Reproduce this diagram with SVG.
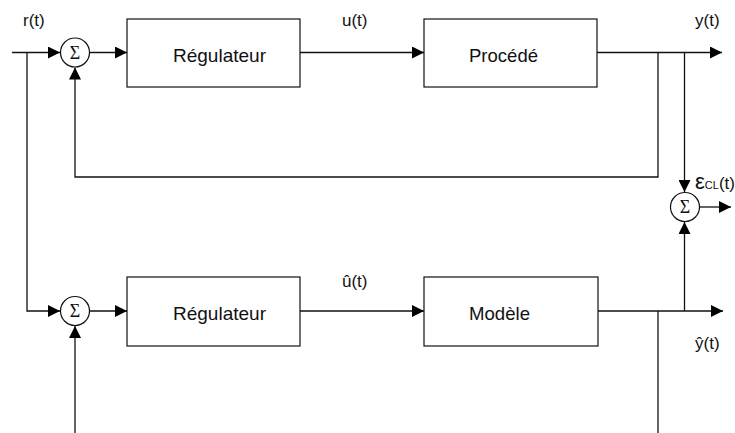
<svg xmlns="http://www.w3.org/2000/svg" width="735" height="433" viewBox="0 0 735 433">
<defs>
<style>
.ln{fill:none;stroke:#111;stroke-width:1.3}
.box{fill:#fff;stroke:#111;stroke-width:1.2}
.sum{fill:#fff;stroke:#111;stroke-width:1.2}
.lbl{font-family:"Liberation Sans",Arial,sans-serif;font-size:19px;fill:#111}
.sig{font-family:"Liberation Sans",Arial,sans-serif;font-size:17px;fill:#111}
.sg{font-family:"Liberation Serif","Times New Roman",serif;font-size:18px;fill:#111;text-anchor:middle}
</style>
<marker id="ah" viewBox="0 0 12 12" refX="12" refY="6" markerWidth="12" markerHeight="12" markerUnits="userSpaceOnUse" orient="auto">
<path d="M0,0 L12,6 L0,12 Z" fill="#000"/>
</marker>
</defs>
<rect width="735" height="433" fill="#fff"/>
<g id="connectors">
<path class="ln" d="M12,52.5 H60" marker-end="url(#ah)"/>
<path class="ln" d="M27,52.5 V311 H60" marker-end="url(#ah)"/>
<path class="ln" d="M90,52.5 H127" marker-end="url(#ah)"/>
<path class="ln" d="M300,52.5 H424" marker-end="url(#ah)"/>
<path class="ln" d="M597,52.5 H722" marker-end="url(#ah)"/>
<path class="ln" d="M658,52.5 V177 H75 V67.5" marker-end="url(#ah)"/>
<path class="ln" d="M684.5,52.5 V192" marker-end="url(#ah)"/>
<path class="ln" d="M700,207 H731" marker-end="url(#ah)"/>
<path class="ln" d="M684.5,311 V222" marker-end="url(#ah)"/>
<path class="ln" d="M90,311 H127" marker-end="url(#ah)"/>
<path class="ln" d="M300,311 H424" marker-end="url(#ah)"/>
<path class="ln" d="M598,311 H723" marker-end="url(#ah)"/>
<path class="ln" d="M658,311 V433"/>
<path class="ln" d="M75,433 V326" marker-end="url(#ah)"/>
</g>
<g id="sum1"><circle class="sum" cx="75" cy="52.5" r="14.5"/><text class="sg" x="75" y="58.5">Σ</text></g>
<g id="regulateur1"><rect class="box" x="127" y="19" width="173" height="68"/><text class="lbl" x="173" y="62" textLength="93" lengthAdjust="spacingAndGlyphs">Régulateur</text></g>
<g id="procede"><rect class="box" x="424" y="19" width="173" height="68"/><text class="lbl" x="469" y="62" textLength="69" lengthAdjust="spacingAndGlyphs">Procédé</text></g>
<g id="sum3"><circle class="sum" cx="685" cy="207" r="14.5"/><text class="sg" x="685" y="213">Σ</text></g>
<g id="sum2"><circle class="sum" cx="75" cy="311" r="14.5"/><text class="sg" x="75" y="317">Σ</text></g>
<g id="regulateur2"><rect class="box" x="127" y="277" width="173" height="69"/><text class="lbl" x="173" y="320" textLength="93" lengthAdjust="spacingAndGlyphs">Régulateur</text></g>
<g id="modele"><rect class="box" x="424" y="277" width="174" height="69"/><text class="lbl" x="469" y="320" textLength="61" lengthAdjust="spacingAndGlyphs">Modèle</text></g>
<g id="labels">
<text class="sig" x="23" y="26">r(t)</text>
<text class="sig" x="342" y="26">u(t)</text>
<text class="sig" x="695" y="26">y(t)</text>
<text class="sig" x="342" y="287">û(t)</text>
<text class="sig" x="695" y="349">ŷ(t)</text>
<text class="sig" x="695" y="189"><tspan font-size="22">ε</tspan><tspan font-size="11">CL</tspan>(t)</text>
</g>
</svg>
